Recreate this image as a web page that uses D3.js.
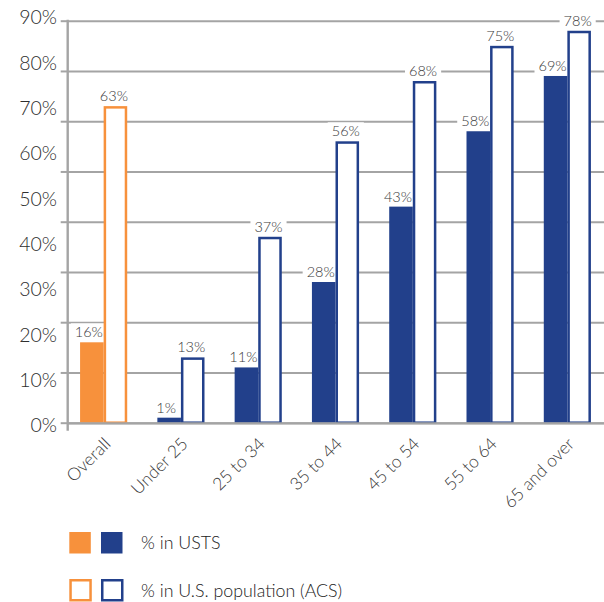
<!DOCTYPE html>
<html><head><meta charset="utf-8">
<script src="https://cdn.jsdelivr.net/npm/d3@7"></script>
<style>body{margin:0;background:#fff} svg{display:block} text{font-family:Lato, "Open Sans", sans-serif; font-weight:300}</style>
</head><body><svg id="c" width="604" height="602"></svg>
<script>
const categories = ["Overall","Under 25","25 to 34","35 to 44","45 to 54","55 to 64","65 and over"];
const ustsValues = [16, 1, 11, 28, 43, 58, 69];
const acsValues  = [63, 13, 37, 56, 68, 75, 78];
const yTickLabels = ["0%","10%","20%","30%","40%","50%","60%","70%","80%","90%"];
const seriesNames = ["% in USTS", "% in U.S. population (ACS)"];
const groupColors = ["#F7913C", "#22408B"];

const svg = d3.select("#c");
const axisX = 67.7, rightEdge = 604;
const y = d3.scaleLinear().domain([0, 80]).range([422.7, 20.7]);
const yLab = d3.scalePoint().domain(yTickLabels).range([425, 17]);
const x = d3.scaleBand().domain(categories).range([65, 606]).paddingInner(0.39).paddingOuter(0.195);
const half = x.bandwidth() / 2;
const colorOf = c => categories.indexOf(c) === 0 ? groupColors[0] : groupColors[1];
const gridTicks = y.ticks(8);

// gridlines
const grid = svg.append("g").attr("transform", `translate(${axisX},0)`)
  .call(d3.axisRight(y).tickValues(gridTicks).tickSize(rightEdge - axisX).tickFormat(""));
grid.select(".domain").remove();
grid.selectAll("line").attr("stroke", "#a4a4a4").attr("stroke-width", 2);
grid.selectAll("text").remove();

// tick marks left of axis
const yTk = svg.append("g").attr("transform", `translate(${axisX},0)`)
  .call(d3.axisLeft(y).tickValues(gridTicks).tickSize(7).tickFormat(""));
yTk.select(".domain").remove();
yTk.selectAll("line").attr("stroke", "#a4a4a4").attr("stroke-width", 2);
yTk.selectAll("text").remove();

// tick labels (evenly spread 0%..90%)
const yl = svg.append("g").attr("transform", `translate(57,0)`)
  .call(d3.axisLeft(yLab).tickSize(0).tickPadding(0));
yl.select(".domain").remove();
yl.selectAll("text").attr("font-size", 19.5).attr("fill", "#2e2e2e").attr("dy", "0.35em");

// data labels layer (backgrounds first)
const labels = [];
categories.forEach((c, i) => {
  labels.push({cx: x(c) + half / 2 - 3, v: ustsValues[i], t: ustsValues[i] + "%"});
  labels.push({cx: x(c) + half + half / 2 - 1.5, v: acsValues[i], t: acsValues[i] + "%"});
});
const bgG = svg.append("g");
const barG = svg.append("g");
const txtG = svg.append("g");

// filled bars (USTS)
barG.selectAll("rect.f").data(categories).join("rect").attr("class", "f")
  .attr("x", c => x(c)).attr("width", half)
  .attr("y", (c, i) => y(ustsValues[i]))
  .attr("height", (c, i) => y(0) - y(ustsValues[i]))
  .attr("fill", c => colorOf(c));

// outline bars (ACS)
const sw = 2.5;
barG.selectAll("rect.o").data(categories).join("rect").attr("class", "o")
  .attr("x", c => x(c) + half + sw / 2).attr("width", half - sw)
  .attr("y", (c, i) => y(acsValues[i]) + sw / 2)
  .attr("height", (c, i) => y(0) - y(acsValues[i]) - sw / 2)
  .attr("fill", "#fff").attr("stroke", c => colorOf(c)).attr("stroke-width", sw);

// baseline & axis line
svg.append("line").attr("x1", axisX).attr("x2", rightEdge).attr("y1", y(0) + 0.6).attr("y2", y(0) + 0.6)
  .attr("stroke", "#a4a4a4").attr("stroke-width", 2.2);
svg.append("line").attr("x1", axisX).attr("x2", axisX).attr("y1", y(80) - 1).attr("y2", y(0) + 8)
  .attr("stroke", "#a4a4a4").attr("stroke-width", 2.4);

// value labels
labels.forEach(d => {
  const t = txtG.append("text").attr("x", d.cx).attr("y", y(d.v) - 5)
    .attr("text-anchor", "middle").attr("font-size", 14.5).attr("fill", "#3a3a3a").text(d.t);
  const bb = t.node().getBBox();
  bgG.append("rect").attr("x", bb.x - 4).attr("y", bb.y).attr("width", bb.width + 8).attr("height", bb.height)
    .attr("fill", "#fff");
});

// x axis labels
const xa = svg.append("g").attr("transform", `translate(0,445)`)
  .call(d3.axisBottom(x).tickSize(0));
xa.select(".domain").remove();
xa.selectAll("text").attr("x", 0).attr("y", 0).attr("dy", 0)
  .attr("transform", `translate(8,0) rotate(-45)`).attr("text-anchor", "end")
  .attr("font-size", 17.5).attr("fill", "#3a3a3a");

// legend
const legY = [532, 580];
seriesNames.forEach((name, si) => {
  groupColors.forEach((col, ci) => {
    const lx = ci === 0 ? 69.3 : 101;
    if (si === 0) {
      svg.append("rect").attr("x", lx).attr("y", legY[si]).attr("width", 21.5).attr("height", 21.5).attr("fill", col);
    } else {
      svg.append("rect").attr("x", lx + 1.25).attr("y", legY[si] + 0.25).attr("width", 20).attr("height", 20)
        .attr("fill", "#fff").attr("stroke", col).attr("stroke-width", 2.5);
    }
  });
  svg.append("text").attr("x", 141).attr("y", legY[si] + 17).attr("font-size", 17.8).attr("fill", "#222").text(name);
});
</script></body></html>
